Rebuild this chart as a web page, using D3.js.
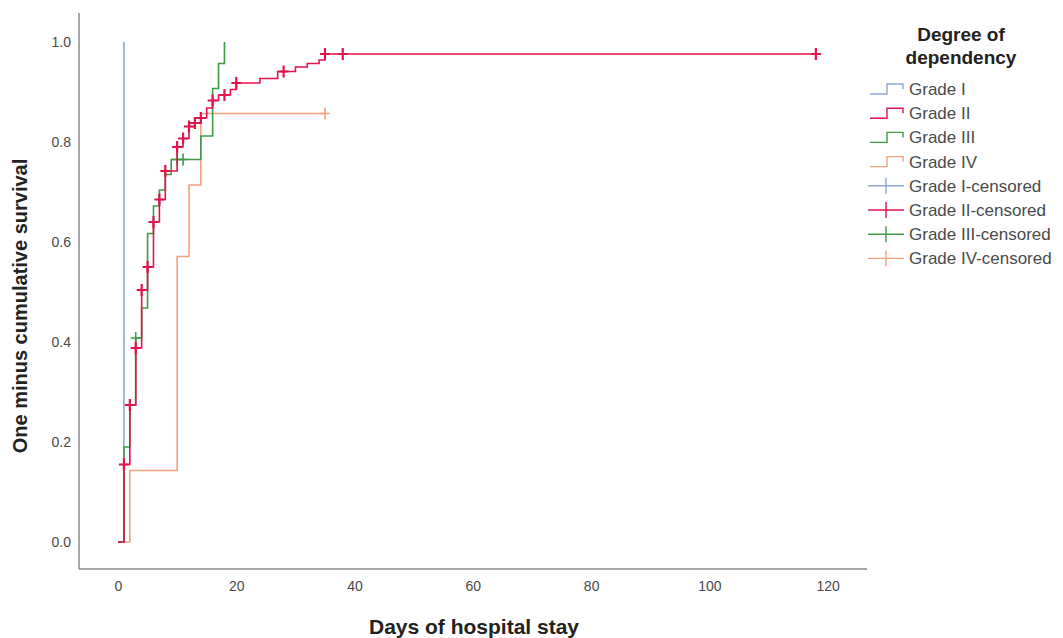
<!DOCTYPE html>
<html>
<head>
<meta charset="utf-8">
<script src="https://cdn.jsdelivr.net/npm/d3@7"></script>
<style>
  body { margin: 0; background: #fff; }
  svg { font-family: Arial, "Liberation Sans", sans-serif; }
</style>
</head>
<body>
<svg id="chart" width="1063" height="638"></svg>
<script>
// step points [day, one minus survival]
var grade1Steps = [[0, 0], [1, 1.0]];
var grade2Steps = [[0, 0], [1, 0.155], [2, 0.274], [3, 0.388], [4, 0.504], [5, 0.55], [6, 0.64], [7, 0.685],
  [8, 0.742], [10, 0.79], [11, 0.807], [12, 0.831], [13, 0.838], [14, 0.848], [15, 0.868], [16, 0.883],
  [17, 0.894], [19, 0.905], [20, 0.918], [24, 0.927], [27, 0.941], [30, 0.95], [32, 0.957], [34, 0.964], [35, 0.976]];
var grade3Steps = [[0, 0], [1, 0.19], [2, 0.274], [3, 0.408], [4, 0.468], [5, 0.617], [6, 0.672], [7, 0.704],
  [8, 0.735], [9, 0.765], [14, 0.812], [16, 0.907], [17, 0.957], [18, 1.0]];
var grade4Steps = [[0, 0], [2, 0.143], [10, 0.571], [12, 0.714], [14, 0.857]];

// censored cases [day, value]
var grade1Censored = [];
var grade2Censored = [[1, 0.155], [2, 0.274], [3, 0.388], [4, 0.504], [5, 0.55], [6, 0.64], [7, 0.685], [8, 0.742],
  [10, 0.79], [11, 0.807], [12, 0.831], [13, 0.838], [14, 0.848], [16, 0.883], [18, 0.894], [20, 0.918],
  [28, 0.941], [35, 0.976], [38, 0.976], [118, 0.976]];
var grade3Censored = [[3, 0.408], [10, 0.765], [11, 0.765]];
var grade4Censored = [[35, 0.857]];

var groupNames = ['Grade I', 'Grade II', 'Grade III', 'Grade IV'];
var groupColors = ['#8ea6d8', '#e0134a', '#3f9a48', '#f7a07c'];

var xTicks = [0, 20, 40, 60, 80, 100, 120];
var yTicks = [0, 0.2, 0.4, 0.6, 0.8, 1.0];

var svg = d3.select('#chart');

var x = d3.scaleLinear().domain([0, 120]).range([118, 827.7]);
var y = d3.scaleLinear().domain([0, 1]).range([542, 42]);

// axis frame
svg.append('line')
  .attr('x1', 79).attr('x2', 79).attr('y1', 13).attr('y2', 569)
  .attr('stroke', '#8a8a8a').attr('stroke-width', 1.5);
svg.append('line')
  .attr('x1', 79).attr('x2', 867).attr('y1', 569).attr('y2', 569)
  .attr('stroke', '#8a8a8a').attr('stroke-width', 1.5);

var xAxis = svg.append('g')
  .attr('transform', 'translate(0,569)')
  .call(d3.axisBottom(x).tickValues(xTicks).tickSize(0).tickPadding(12).tickFormat(d3.format('d')));
var yAxis = svg.append('g')
  .attr('transform', 'translate(79,0)')
  .call(d3.axisLeft(y).tickValues(yTicks).tickSize(0).tickPadding(8).tickFormat(d3.format('.1f')));

[xAxis, yAxis].forEach(function(ax) {
  ax.select('.domain').remove();
  ax.selectAll('text')
    .attr('fill', '#4a4a4a')
    .style('font-size', '14px')
    .style('font-family', 'Arial, "Liberation Sans", sans-serif');
});

// axis titles
svg.append('text')
  .attr('x', 474).attr('y', 634)
  .attr('text-anchor', 'middle')
  .style('font-size', '21px').style('font-weight', 'bold')
  .attr('fill', '#222')
  .text('Days of hospital stay');
svg.append('text')
  .attr('transform', 'translate(27,306) rotate(-90)')
  .attr('text-anchor', 'middle')
  .style('font-size', '20px').style('font-weight', 'bold')
  .attr('fill', '#222')
  .text('One minus cumulative survival');

// curves
var stepLine = d3.line()
  .x(function(d) { return x(d[0]); })
  .y(function(d) { return y(d[1]); })
  .curve(d3.curveStepAfter);

var groups = [
  { steps: grade1Steps, censored: grade1Censored },
  { steps: grade2Steps, censored: grade2Censored },
  { steps: grade3Steps, censored: grade3Censored },
  { steps: grade4Steps, censored: grade4Censored }
];

// draw order: orange, blue, green, red on top
[3, 0, 2, 1].forEach(function(i) {
  var g = groups[i];
  var pts = g.steps.slice();
  var last = pts[pts.length - 1];
  var maxCens = d3.max(g.censored, function(d) { return d[0]; }) || last[0];
  if (maxCens > last[0]) pts.push([maxCens, last[1]]);

  svg.append('path')
    .datum(pts)
    .attr('d', stepLine)
    .attr('fill', 'none')
    .attr('stroke', groupColors[i])
    .attr('stroke-width', 1.6);

  svg.append('g').selectAll('path')
    .data(g.censored)
    .join('path')
    .attr('d', function(d) {
      var cx = x(d[0]), cy = y(d[1]);
      return 'M' + (cx - 5) + ',' + cy + 'H' + (cx + 5) + 'M' + cx + ',' + (cy - 6) + 'V' + (cy + 6);
    })
    .attr('stroke', groupColors[i])
    .attr('stroke-width', i === 1 ? 2.2 : 1.6)
    .attr('fill', 'none');
});

// legend
var legend = svg.append('g');
legend.append('text')
  .attr('x', 961).attr('y', 41)
  .attr('text-anchor', 'middle')
  .style('font-size', '19px').style('font-weight', 'bold')
  .attr('fill', '#222')
  .text('Degree of');
legend.append('text')
  .attr('x', 961).attr('y', 64)
  .attr('text-anchor', 'middle')
  .style('font-size', '19px').style('font-weight', 'bold')
  .attr('fill', '#222')
  .text('dependency');

var legendItems = groupNames.map(function(n, i) { return { name: n, color: groupColors[i], censored: false }; })
  .concat(groupNames.map(function(n, i) { return { name: n + '-censored', color: groupColors[i], censored: true }; }));

var itemG = legend.selectAll('g.item')
  .data(legendItems)
  .join('g')
  .attr('class', 'item')
  .attr('transform', function(d, i) { return 'translate(0,' + (89 + i * 24.2) + ')'; });

itemG.append('path')
  .attr('d', function(d) {
    if (d.censored) return 'M868,0H904M886,-8V8';
    return 'M870,5H887V-5H903V0';
  })
  .attr('fill', 'none')
  .attr('stroke', function(d) { return d.color; })
  .attr('stroke-width', 1.4);

itemG.append('text')
  .attr('x', 909).attr('y', 6)
  .style('font-size', '17px')
  .attr('fill', '#4a4a4a')
  .text(function(d) { return d.name; });
</script>
</body>
</html>
